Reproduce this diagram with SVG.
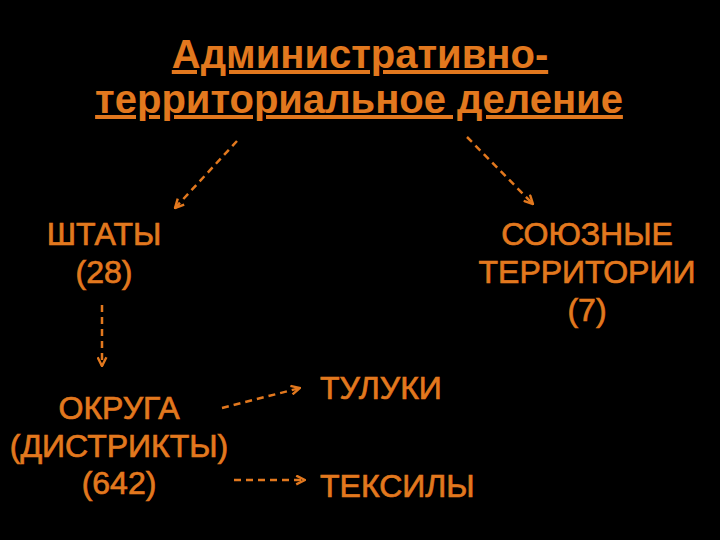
<svg xmlns="http://www.w3.org/2000/svg" width="720" height="540" viewBox="0 0 720 540">
<style>
.t{font-family:"Liberation Sans",Arial,sans-serif;fill:#E2781E;text-anchor:middle}
.h{font-size:40px;font-weight:bold;text-decoration:underline}
.n{font-size:32px;stroke:#E2781E;stroke-width:0.7}
.s{text-anchor:start}
.c{stroke:#E2781E;stroke-width:2.5;stroke-dasharray:7,5;fill:none;marker-end:url(#a)}
</style>
<defs>
<marker id="a" viewBox="0 0 10 10" refX="9" refY="5" markerWidth="11" markerHeight="11" orient="auto" markerUnits="userSpaceOnUse">
<path d="M1,1 L9,5 L1,9" fill="none" stroke="#E2781E" stroke-width="2.2"/>
</marker>
</defs>
<rect width="720" height="540" fill="#000"/>
<g id="title">
<text class="t h" x="360" y="68">Административно-</text>
<text class="t h" x="359" y="113">территориальное деление</text>
</g>
<g id="states"><text class="t n" x="104" y="245">ШТАТЫ</text><text class="t n" x="104" y="283">(28)</text></g>
<g id="union"><text class="t n" x="587" y="245">СОЮЗНЫЕ</text><text class="t n" x="587" y="283">ТЕРРИТОРИИ</text><text class="t n" x="587" y="321">(7)</text></g>
<g id="districts"><text class="t n" x="119" y="419">ОКРУГА</text><text class="t n" x="119" y="457">(ДИСТРИКТЫ)</text><text class="t n" x="119" y="494">(642)</text></g>
<g id="tuluki"><text class="t n s" x="320" y="399">ТУЛУКИ</text></g>
<g id="teksily"><text class="t n s" x="320" y="497">ТЕКСИЛЫ</text></g>
<g id="connectors">
<line class="c" x1="237" y1="141" x2="175" y2="208"/>
<line class="c" x1="467" y1="137" x2="533" y2="204"/>
<line class="c" x1="102" y1="305" x2="102" y2="366"/>
<line class="c" x1="222" y1="408" x2="300" y2="388"/>
<line class="c" x1="234" y1="480" x2="305" y2="480"/>
</g>
</svg>
